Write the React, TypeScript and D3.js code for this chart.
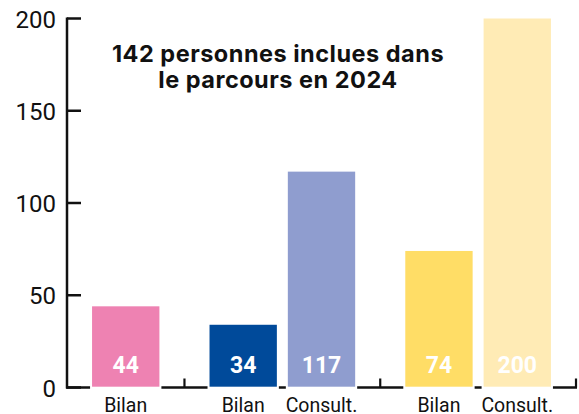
import React from 'react';
import * as d3 from 'd3';

// chart data
const groupSizes = [1, 2, 2];
const barLabels = ['Bilan', 'Bilan', 'Consult.', 'Bilan', 'Consult.'];
const barValues = [44, 34, 117, 74, 200];
const barColors = ['#ee82b2', '#004a9a', '#8f9dcf', '#ffdd66', '#ffebb5'];
const yTicks = [0, 50, 100, 150, 200];
const titleLines = ['142 personnes inclues dans', 'le parcours en 2024'];

const W = 579;
const H = 414;
const GAP = 0.5; // extra slot gap between groups

// slot positions of every bar, with group boundaries
const slots: number[] = [];
const bounds: number[] = [];
{
  let pos = 0;
  bounds.push(-0.75);
  groupSizes.forEach((n) => {
    for (let i = 0; i < n; i++) {
      slots.push(pos);
      pos += 1;
    }
    pos += GAP;
    bounds.push(pos - 1 - GAP + 0.75);
  });
}

export default function App() {
  const left = 67;
  const right = 576;
  const y = d3.scaleLinear().domain([0, 200]).range([387.5, 18.5]);
  const x = d3
    .scaleLinear()
    .domain([bounds[0], bounds[bounds.length - 1]])
    .range([left, right]);
  const slotW = x(1) - x(0);
  const bw = slotW * 0.86;
  const base = y(0);

  return (
    <svg width={W} height={H} style={{ position: 'absolute', left: 0, top: 0, background: '#fff' }}>
      {/* x axis */}
      <line x1={left - 1} x2={right + 1} y1={base} y2={base} stroke="#111" strokeWidth={2.5} />
      {bounds.slice(1).map((b, i) => (
        <line key={i} x1={x(b)} x2={x(b)} y1={base} y2={base - 9} stroke="#111" strokeWidth={2.2} />
      ))}

      {/* bars */}
      {barValues.map((v, i) => (
        <g key={i}>
          <rect
            x={x(slots[i]) - bw / 2 - 2}
            y={y(v) - 1}
            width={bw + 4}
            height={base - y(v) + 3}
            fill="#fff"
          />
          <rect x={x(slots[i]) - bw / 2} y={y(v)} width={bw} height={base - y(v) - 0.8} fill={barColors[i]} />
          <text
            x={x(slots[i])}
            y={372.5}
            textAnchor="middle"
            fill="#fff"
            fontFamily="Roboto, sans-serif"
            fontWeight={700}
            fontSize={23}
          >
            {v}
          </text>
          <text
            x={x(slots[i])}
            y={412}
            textAnchor="middle"
            fill="#111"
            fontFamily="Roboto, sans-serif"
            fontSize={19.5}
          >
            {barLabels[i]}
          </text>
        </g>
      ))}

      {/* y axis */}
      <line x1={left} x2={left} y1={y(200) - 1} y2={base + 1} stroke="#111" strokeWidth={2.5} />
      {yTicks.map((t) => (
        <g key={t}>
          <line x1={left} x2={left + 14} y1={y(t)} y2={y(t)} stroke="#111" strokeWidth={2.5} />
          <text
            x={56}
            y={y(t) + 9}
            textAnchor="end"
            fill="#111"
            fontFamily="Roboto, sans-serif"
            fontWeight={400}
            fontSize={24}
          >
            {t}
          </text>
        </g>
      ))}

      {/* title */}
      {titleLines.map((l, i) => (
        <text
          key={i}
          x={278}
          y={61.7 + i * 26.6}
          textAnchor="middle"
          fill="#111"
          fontFamily="Inter, sans-serif"
          fontWeight={700}
          fontSize={23.5}
          letterSpacing={0.5}
        >
          {l}
        </text>
      ))}
    </svg>
  );
}
